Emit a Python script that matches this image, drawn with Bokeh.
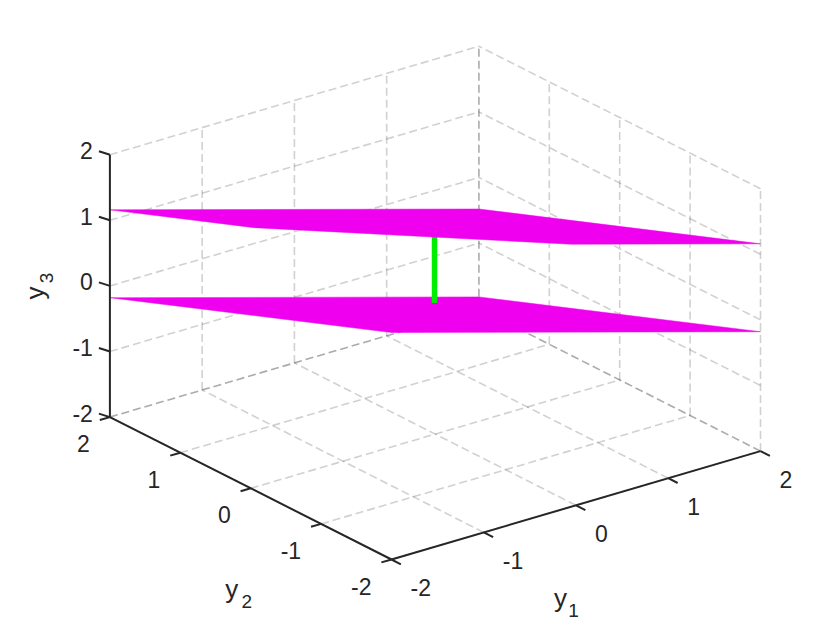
import numpy as np
from bokeh.plotting import figure
from bokeh.models import Range1d
from bokeh.embed import file_html
from bokeh.resources import INLINE
from bokeh.core.properties import value

# ---------------- data ----------------
y1_ticks = [-2, -1, 0, 1, 2]
y2_ticks = [-2, -1, 0, 1, 2]
y3_ticks = [-2, -1, 0, 1, 2]
tick_labels = ["-2", "-1", "0", "1", "2"]
axis_lo, axis_hi = -2, 2

# two planar surfaces given at the corners of the (y1, y2) square
plane_y1 = [-2, 2]
plane_y2 = [-2, 2]
# rows: y2 = -2, 2 ; columns: y1 = -2, 2
upper_plane_y3 = [[2.80, 1.16], [1.16, -0.48]]
lower_plane_y3 = [[1.46, -0.18], [-0.18, -1.82]]

# vertical green segment between the planes
segment_y1 = [1.0, 1.0]
segment_y2 = [1.32, 1.32]
segment_y3 = [-1.13, 0.21]

# ---------------- projection (view) ----------------
ORIGIN = (391.0, 559.0)          # screen position of (-2,-2,-2)
E1 = (92.25, -27.1)              # screen step per unit y1
E2 = (-70.4, -35.6)              # screen step per unit y2
E3 = (0.0, -65.6)                # screen step per unit y3


def proj(a, b, c):
    a = np.asarray(a, float) - axis_lo
    b = np.asarray(b, float) - axis_lo
    c = np.asarray(c, float) - axis_lo
    xs = ORIGIN[0] + a * E1[0] + b * E2[0] + c * E3[0]
    ys = ORIGIN[1] + a * E1[1] + b * E2[1] + c * E3[1]
    return xs, ys


def clip_poly(pts, zmax):
    out = []
    n = len(pts)
    for i in range(n):
        p, q = pts[i], pts[(i + 1) % n]
        pin, qin = p[2] <= zmax, q[2] <= zmax
        if pin:
            out.append(p)
        if pin != qin:
            t = (zmax - p[2]) / (q[2] - p[2])
            out.append(tuple(p[k] + t * (q[k] - p[k]) for k in range(3)))
    return out


def plane_polygon(zgrid):
    pts = [
        (plane_y1[0], plane_y2[0], zgrid[0][0]),
        (plane_y1[1], plane_y2[0], zgrid[0][1]),
        (plane_y1[1], plane_y2[1], zgrid[1][1]),
        (plane_y1[0], plane_y2[1], zgrid[1][0]),
    ]
    pts = clip_poly(pts, axis_hi)
    a, b, c = zip(*pts)
    return proj(a, b, c)


# ---------------- figure ----------------
W, H = 824, 622
p = figure(width=W, height=H, output_backend="svg", toolbar_location=None,
           x_range=Range1d(0, W), y_range=Range1d(H, 0),
           min_border=0, outline_line_color=None)
p.axis.visible = False
p.grid.visible = False
p.background_fill_color = "white"

# grid lines on the back walls and floor
segs = []
for t in y1_ticks:   # wall y2 = hi
    segs.append(((t, axis_hi, axis_lo), (t, axis_hi, axis_hi)))
for t in y3_ticks:
    segs.append(((axis_lo, axis_hi, t), (axis_hi, axis_hi, t)))
for t in y2_ticks:   # wall y1 = hi
    segs.append(((axis_hi, t, axis_lo), (axis_hi, t, axis_hi)))
for t in y3_ticks:
    segs.append(((axis_hi, axis_lo, t), (axis_hi, axis_hi, t)))
for t in y1_ticks:   # floor
    segs.append(((t, axis_lo, axis_lo), (t, axis_hi, axis_lo)))
for t in y2_ticks:
    segs.append(((axis_lo, t, axis_lo), (axis_hi, t, axis_lo)))
gx, gy = [], []
for s, e in segs:
    xs, ys = proj([s[0], e[0]], [s[1], e[1]], [s[2], e[2]])
    gx.append(list(xs))
    gy.append(list(ys))
p.multi_line(gx, gy, line_color="#262626", line_alpha=0.21, line_width=1.6,
             line_dash="8 4")

MAGENTA = "#ef00ef"
lx, ly = plane_polygon(lower_plane_y3)
p.patch(lx, ly, fill_color=MAGENTA, line_color=MAGENTA, line_width=0.5)

sx, sy = proj(segment_y1, segment_y2, segment_y3)
p.line(sx, sy, line_color="#00ee00", line_width=5.5)

ux, uy = plane_polygon(upper_plane_y3)
p.patch(ux, uy, fill_color=MAGENTA, line_color=MAGENTA, line_width=0.5)

# axes lines
AX = "#262626"
ax_segs = [
    ((axis_lo, axis_lo, axis_lo), (axis_hi, axis_lo, axis_lo)),
    ((axis_lo, axis_lo, axis_lo), (axis_lo, axis_hi, axis_lo)),
    ((axis_lo, axis_hi, axis_lo), (axis_lo, axis_hi, axis_hi)),
]
axx, axy = [], []
for s, e in ax_segs:
    xs, ys = proj([s[0], e[0]], [s[1], e[1]], [s[2], e[2]])
    axx.append(list(xs))
    axy.append(list(ys))
p.multi_line(axx, axy, line_color=AX, line_width=2.0)

# tick marks
TICK1 = (9.4, 4.8)
TICK2 = (-10.1, 2.9)
TICK3 = (-11.0, -3.5)
tx, ty = [], []
x1, yy1 = proj(y1_ticks, [axis_lo] * 5, [axis_lo] * 5)
x2, yy2 = proj([axis_lo] * 5, y2_ticks, [axis_lo] * 5)
x3, yy3 = proj([axis_lo] * 5, [axis_hi] * 5, y3_ticks)
for xs, ys, d in ((x1, yy1, TICK1), (x2, yy2, TICK2), (x3, yy3, TICK3)):
    for a, b in zip(xs, ys):
        tx.append([a, a + d[0]])
        ty.append([b, b + d[1]])
p.multi_line(tx, ty, line_color=AX, line_width=2.0)

FONT = value("Liberation Sans")
TFS = "23px"
p.text(x=x1 + 19, y=yy1 + 28, text=tick_labels, text_font=FONT,
       text_font_size=TFS, text_color=AX, text_align="left",
       text_baseline="middle")
p.text(x=x2 - 20, y=yy2 + 26.5, text=tick_labels, text_font=FONT,
       text_font_size=TFS, text_color=AX, text_align="right",
       text_baseline="middle")
p.text(x=x3 - 17, y=yy3 - 4, text=tick_labels, text_font=FONT,
       text_font_size=TFS, text_color=AX, text_align="right",
       text_baseline="middle")

# axis labels with subscripts
LFS = "26px"
SFS = "19px"
mx1, my1 = proj([0], [axis_lo], [axis_lo])
mx2, my2 = proj([axis_lo], [0], [axis_lo])
mx3, my3 = proj([axis_lo], [axis_hi], [0])
p.text(x=[mx1[0] - 15.5, mx2[0] - 19], y=[my1[0] + 93, my2[0] + 101],
       text=["y", "y"], text_font=FONT, text_font_size=LFS, text_color=AX,
       text_align="center", text_baseline="middle")
p.text(x=[mx1[0] - 15.5 + 13, mx2[0] - 19 + 15],
       y=[my1[0] + 93 + 12, my2[0] + 101 + 12],
       text=["1", "2"], text_font=FONT, text_font_size=SFS, text_color=AX,
       text_align="center", text_baseline="middle")
p.text(x=[mx3[0] - 75], y=[my3[0] + 7], text=["y"], angle=np.pi / 2,
       text_font=FONT, text_font_size=LFS, text_color=AX,
       text_align="center", text_baseline="middle")
p.text(x=[mx3[0] - 75 + 12], y=[my3[0] + 7 - 15], text=["3"], angle=np.pi / 2,
       text_font=FONT, text_font_size=SFS, text_color=AX,
       text_align="center", text_baseline="middle")

open("out.html", "w").write(file_html(p, INLINE))
